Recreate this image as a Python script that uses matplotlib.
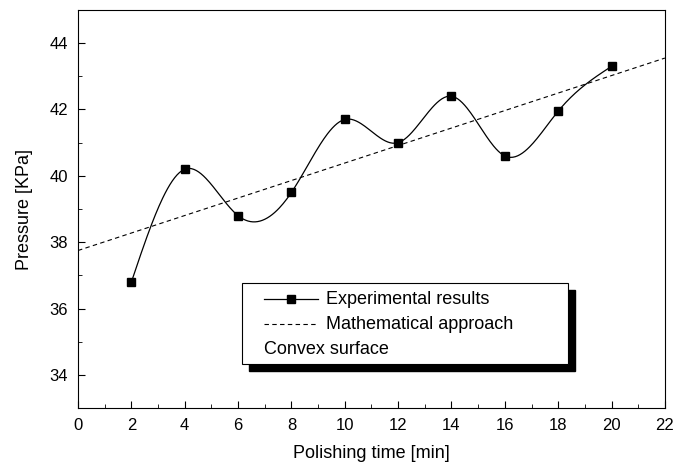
import matplotlib
matplotlib.use("Agg")
import matplotlib.pyplot as plt
from matplotlib.patches import Rectangle
from matplotlib.ticker import MultipleLocator
import numpy as np

plt.rcParams['font.family'] = ['Liberation Sans', 'DejaVu Sans']

time_min = [2, 4, 6, 8, 10, 12, 14, 16, 18, 20]
pressure = [36.8, 40.2, 38.8, 39.5, 41.7, 41.0, 42.4, 40.6, 41.95, 43.3]
fit_x = [0, 22]
fit_y = [37.75, 43.55]


def natural_spline(x, y, n=400):
    x = np.asarray(x, float)
    y = np.asarray(y, float)
    k = len(x)
    h = np.diff(x)
    A = np.zeros((k, k))
    b = np.zeros(k)
    A[0, 0] = A[-1, -1] = 1
    for i in range(1, k - 1):
        A[i, i - 1] = h[i - 1]
        A[i, i] = 2 * (h[i - 1] + h[i])
        A[i, i + 1] = h[i]
        b[i] = 3 * ((y[i + 1] - y[i]) / h[i] - (y[i] - y[i - 1]) / h[i - 1])
    c = np.linalg.solve(A, b)
    xs = np.linspace(x[0], x[-1], n)
    idx = np.clip(np.searchsorted(x, xs) - 1, 0, k - 2)
    dx = xs - x[idx]
    hi = h[idx]
    bb = (y[idx + 1] - y[idx]) / hi - hi * (2 * c[idx] + c[idx + 1]) / 3
    dd = (c[idx + 1] - c[idx]) / (3 * hi)
    ys = y[idx] + bb * dx + c[idx] * dx ** 2 + dd * dx ** 3
    return xs, ys


fig = plt.figure(figsize=(6.75, 4.74), dpi=100)
ax = fig.add_axes([0.1156, 0.139, 0.8694, 0.84])

sx, sy = natural_spline(time_min, pressure)
ax.plot(sx, sy, 'k-', linewidth=0.9)
ax.plot(time_min, pressure, 'ks', markersize=6)
ax.plot(fit_x, fit_y, 'k--', linewidth=0.8, dashes=(4, 3))

ax.set_xlim(0, 22)
ax.set_ylim(33, 45)
ax.xaxis.set_major_locator(MultipleLocator(2))
ax.xaxis.set_minor_locator(MultipleLocator(1))
ax.yaxis.set_major_locator(MultipleLocator(2))
ax.yaxis.set_minor_locator(MultipleLocator(1))
ax.set_yticks([34, 36, 38, 40, 42, 44])
ax.tick_params(which='both', direction='in', top=False, right=False, labelsize=12)
ax.tick_params(which='major', length=5, pad=7)
ax.tick_params(which='minor', length=3)
ax.set_xlabel("Polishing time [min]", fontsize=13, labelpad=9)
ax.set_ylabel("Pressure [KPa]", fontsize=13, labelpad=12)

# legend box with shadow, in axes coordinates
tr = ax.transAxes
x0, x1 = (242 - 78) / 587, (568 - 78) / 587
y0, y1 = (408 - 364) / 398, (408 - 283) / 398
dxs, dys = 7 / 587, 7 / 398
ax.add_patch(Rectangle((x0 + dxs, y0 - dys), x1 - x0, y1 - y0, transform=tr,
                       facecolor='black', edgecolor='black', zorder=5))
ax.add_patch(Rectangle((x0, y0), x1 - x0, y1 - y0, transform=tr,
                       facecolor='white', edgecolor='black', linewidth=0.8, zorder=6))
lx0, lx1 = (264 - 78) / 587, (318 - 78) / 587
tx = (326 - 78) / 587
rows = [(408 - 299) / 398, (408 - 324) / 398, (408 - 349) / 398]
ax.plot([lx0, lx1], [rows[0]] * 2, 'k-', linewidth=0.9, transform=tr, zorder=7)
ax.plot([(lx0 + lx1) / 2], [rows[0]], 'ks', markersize=6, transform=tr, zorder=7)
ax.plot([lx0, lx1], [rows[1]] * 2, 'k--', linewidth=0.8, dashes=(4, 3), transform=tr, zorder=7)
ax.text(tx, rows[0], "Experimental results", transform=tr, fontsize=13, va='center', zorder=7)
ax.text(tx, rows[1], "Mathematical approach", transform=tr, fontsize=13, va='center', zorder=7)
ax.text(lx0, rows[2], "Convex surface", transform=tr, fontsize=13, va='center', zorder=7)

fig.savefig("out.png", dpi=100)
